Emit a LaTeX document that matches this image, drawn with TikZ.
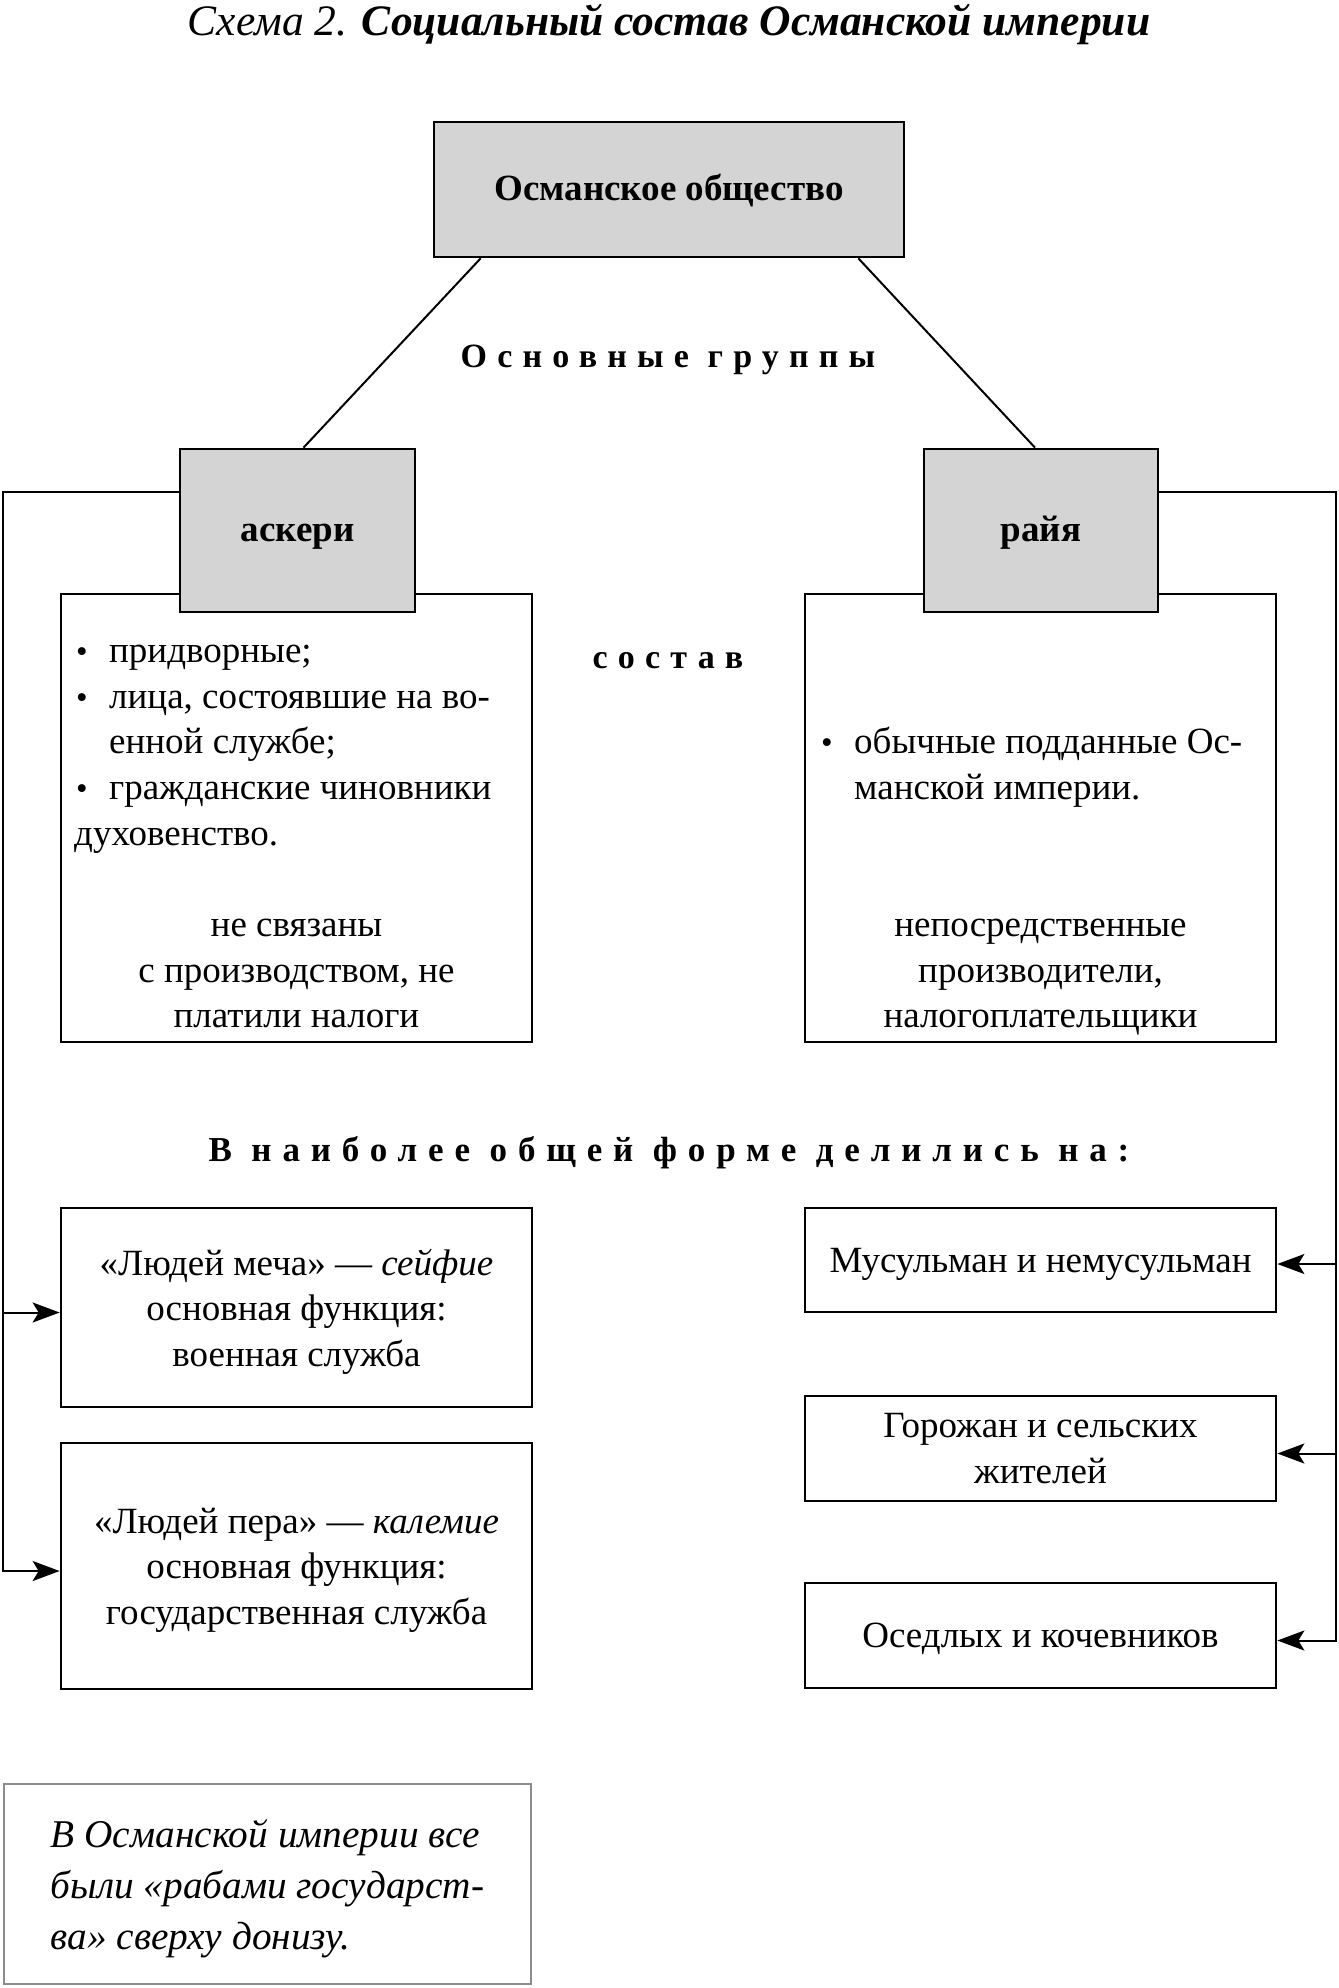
\documentclass[tikz,border=0pt]{standalone}
\usepackage{fontspec}
\setmainfont{Liberation Serif}
\usepackage{tikz}
\usetikzlibrary{arrows.meta}
\definecolor{boxgray}{RGB}{212,212,212}
\definecolor{notegray}{RGB}{140,140,140}
\newcommand{\blt}{\makebox[35pt][l]{\hspace{2pt}{\fontsize{33}{33}\selectfont\textbullet}}}

\begin{document}
\begin{tikzpicture}[x=1pt, y=-1pt, >={Stealth[length=27pt,width=20pt,inset=6pt]}]
        % Styles
        \tikzset{group/.style={rectangle, draw, line width=2.7pt, fill=boxgray, inner sep=0pt, text height=30pt, text depth=8pt, font=\fontsize{37}{45.6}\selectfont\bfseries}}
        \tikzset{panel/.style={rectangle, draw, line width=2.7pt, fill=white, inner sep=0pt}}
        \tikzset{kind/.style={rectangle, draw, line width=2.7pt, fill=white, align=center, inner sep=0pt, text depth=0pt, font=\fontsize{37}{45.6}\selectfont}}
        \tikzset{body/.style={align=left, inner sep=0pt, font=\fontsize{37}{45.6}\selectfont}}
        \tikzset{spaced/.style={inner sep=0pt, font={\fontsize{34}{40}\selectfont\bfseries\addfontfeature{LetterSpace=30}}}}
        \tikzset{link/.style={line width=2pt}}
        \useasboundingbox (0,0) rectangle (1338,1988);

        % Title
        \node[inner sep=0pt, anchor=base, font=\fontsize{43.5}{48}\selectfont\itshape] (title) at (669,36) {Схема 2. \textbf{Социальный состав Османской империи}};

        % Groups
        \node[group, minimum width=470pt, minimum height=135pt] (society) at (669,189.5) {Османское общество};
        \node[panel, minimum width=471pt, minimum height=448pt] (askeripanel) at (296.5,818) {};
        \node[panel, minimum width=471pt, minimum height=448pt] (rayyapanel) at (1040.5,818) {};
        \node[group, minimum width=235pt, minimum height=163pt] (askeri) at (297.5,530.5) {аскери};
        \node[group, minimum width=234pt, minimum height=163pt] (rayya) at (1041,530.5) {райя};

        % Labels
        \node[spaced, anchor=base] (groupslabel) at (668,367) {Основные группы};
        \node[spaced, anchor=base] (compositionlabel) at (668,668) {состав};
        \node[spaced, anchor=base, font={\fontsize{35}{40}\selectfont\bfseries\addfontfeature{LetterSpace=31}}] (splitlabel) at (669,1161) {В наиболее общей форме делились на:};

        % Composition
        \node[body, anchor=north west] (askerilist) at (74,645) {\blt придворные;\\
          \blt лица, состоявшие на во-\\
          \hphantom{\blt}енной службе;\\
          \blt гражданские чиновники\\
          духовенство.};
        \node[body, align=center, anchor=north] (askerinote) at (296.5,919) {не связаны\\с производством, не\\платили налоги};
        \node[body, anchor=north west] (rayyalist) at (819,727) {\blt обычные подданные Ос-\\
          \hphantom{\blt}манской империи.};
        \node[body, align=center, anchor=north] (rayyanote) at (1040.5,919) {непосредственные\\производители,\\налогоплательщики};

        % Divisions
        \node[kind, minimum width=471pt, minimum height=199pt] (sword) at (296.5,1307.5) {«Людей меча» — \textit{сейфие}\\основная функция:\\военная служба};
        \node[kind, minimum width=471pt, minimum height=246pt] (pen) at (296.5,1566) {«Людей пера» — \textit{калемие}\\основная функция:\\государственная служба};
        \node[kind, minimum width=471pt, minimum height=104pt] (faith) at (1040.5,1260) {Мусульман и немусульман};
        \node[kind, minimum width=471pt, minimum height=105pt] (town) at (1040.5,1448.5) {Горожан и сельских\\жителей};
        \node[kind, minimum width=471pt, minimum height=105pt] (nomad) at (1040.5,1635.5) {Оседлых и кочевников};

        % Note
        \node[rectangle, draw=notegray, line width=2.7pt, minimum width=527pt, minimum height=200pt, align=left, inner sep=0pt, text depth=0pt, font=\fontsize{39.3}{51}\selectfont\itshape] (remark) at (267.5,1884) {В Османской империи все\\были «рабами государст-\\ва» сверху донизу.};

        % Connections
        \coordinate (lrail) at (2.5,492);
        \coordinate (rrail) at (1335.5,492);
        \coordinate (swordin) at ([yshift=-5pt]sword.west);
        \coordinate (penin) at ([yshift=-5pt]pen.west);
        \coordinate (faithin) at ([yshift=-4pt]faith.east);
        \coordinate (townin) at ([yshift=-5pt]town.east);
        \coordinate (nomadin) at ([yshift=-5pt]nomad.east);
        \draw[link] ([xshift=48pt]society.south west) -- ([xshift=6pt]askeri.north);
        \draw[link] ([xshift=-47pt]society.south east) -- ([xshift=-6pt]rayya.north);
        \draw[link, ->] (askeri.west |- lrail) -- (lrail) |- (penin);
        \draw[link, ->] (lrail |- swordin) -- (swordin);
        \draw[link, ->] (rayya.east |- rrail) -- (rrail) |- (nomadin);
        \draw[link, ->] (rrail |- faithin) -- (faithin);
        \draw[link, ->] (rrail |- townin) -- (townin);
    \end{tikzpicture}
\end{document}
